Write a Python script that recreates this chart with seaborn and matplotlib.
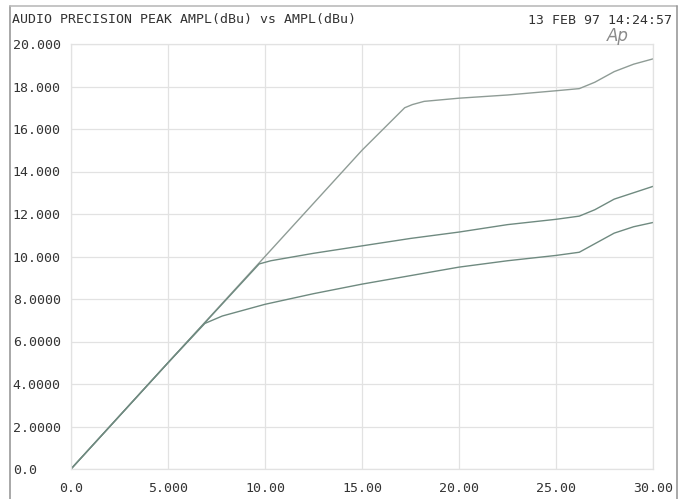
import matplotlib
matplotlib.use("Agg")
import matplotlib.pyplot as plt
import seaborn as sns
import pandas as pd
from matplotlib.lines import Line2D

# ---- data ----
top_x = [0.0, 5.0, 10.0, 15.0, 17.2, 17.6, 18.2, 20.0, 22.5, 25.0, 26.2, 27.0, 28.0, 29.0, 30.0]
top_y = [0.0, 5.0, 10.0, 15.0, 17.0, 17.15, 17.3, 17.45, 17.6, 17.8, 17.9, 18.2, 18.7, 19.05, 19.3]

mid_x = [0.0, 5.0, 9.7, 10.3, 12.5, 15.0, 17.5, 20.0, 22.5, 25.0, 26.2, 27.0, 28.0, 29.0, 30.0]
mid_y = [0.0, 5.0, 9.65, 9.8, 10.15, 10.5, 10.85, 11.15, 11.5, 11.75, 11.9, 12.2, 12.7, 13.0, 13.3]

low_x = [0.0, 5.0, 6.9, 7.8, 10.0, 12.5, 15.0, 17.5, 20.0, 22.5, 25.0, 26.2, 27.0, 28.0, 29.0, 30.0]
low_y = [0.0, 5.0, 6.85, 7.2, 7.75, 8.25, 8.7, 9.1, 9.5, 9.8, 10.05, 10.2, 10.6, 11.1, 11.4, 11.6]

x_ticks = [0, 5, 10, 15, 20, 25, 30]
x_tick_labels = ["0.0", "5.000", "10.00", "15.00", "20.00", "25.00", "30.00"]
y_ticks = [0, 2, 4, 6, 8, 10, 12, 14, 16, 18, 20]
y_tick_labels = ["0.0", "2.0000", "4.0000", "6.0000", "8.0000", "10.000",
                 "12.000", "14.000", "16.000", "18.000", "20.000"]

title_left = "AUDIO PRECISION PEAK AMPL(dBu) vs AMPL(dBu)"
title_right = "13 FEB 97 14:24:57"

df = pd.concat([
    pd.DataFrame({"x": top_x, "y": top_y, "s": "top"}),
    pd.DataFrame({"x": mid_x, "y": mid_y, "s": "mid"}),
    pd.DataFrame({"x": low_x, "y": low_y, "s": "low"}),
], ignore_index=True)

sns.set_style("white")
plt.rcParams["font.family"] = ["DejaVu Sans Mono"]

W, H = 685, 499
fig = plt.figure(figsize=(W / 100, H / 100), dpi=100)
ax = fig.add_axes([71 / W, 1 - 469 / H, (653 - 71) / W, (469 - 44) / H])

line_col = "#6f8a80"
sns.lineplot(data=df, x="x", y="y", hue="s", palette={"top": "#8f9c96", "mid": line_col, "low": line_col},
             sort=False, estimator=None, linewidth=1.0, legend=False, ax=ax)

ax.set_xlim(0, 30)
ax.set_ylim(0, 20)
ax.set_xticks(x_ticks)
ax.set_xticklabels(x_tick_labels)
ax.set_yticks(y_ticks)
ax.set_yticklabels(y_tick_labels, ha="left")
ax.tick_params(axis="y", length=0, pad=42, labelsize=9.5, colors="#333333")
ax.tick_params(axis="x", length=0, pad=9, labelsize=9.5, colors="#333333")
ax.set_xlabel("")
ax.set_ylabel("")
ax.grid(True, color="#e2e2e2", linewidth=0.9)
for sp in ax.spines.values():
    sp.set_color("#e2e2e2")
    sp.set_linewidth(0.9)

fig.text(12 / W, 1 - 20 / H, title_left, ha="left", va="center", fontsize=9.5, color="#333333")
fig.text(672 / W, 1 - 20 / H, title_right, ha="right", va="center", fontsize=9.5, color="#333333")
fig.text(618 / W, 1 - 36 / H, "Ap", ha="center", va="center", fontsize=12, color="#8a8a8a",
         family=["DejaVu Sans"], style="italic")

# outer frame of the printout
fig.add_artist(Line2D([10 / W, 10 / W], [0, 1 - 6 / H], transform=fig.transFigure, color="#999999", lw=1.2))
fig.add_artist(Line2D([10 / W, 677 / W], [1 - 6 / H, 1 - 6 / H], transform=fig.transFigure, color="#bbbbbb", lw=1.2))
fig.add_artist(Line2D([677 / W, 677 / W], [0, 1 - 6 / H], transform=fig.transFigure, color="#999999", lw=1.2))

fig.savefig("out.png", dpi=100)
